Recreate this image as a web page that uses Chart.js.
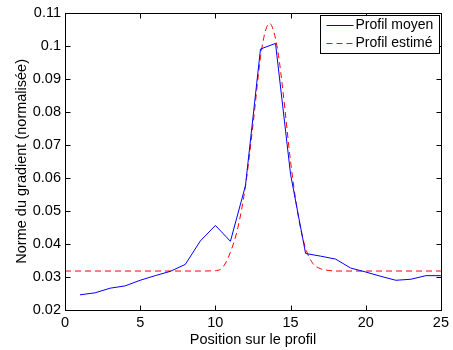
<!DOCTYPE html>
<html>
<head>
<meta charset="utf-8">
<script src="https://cdn.jsdelivr.net/npm/chart.js@4/dist/chart.umd.min.js"></script>
<style>
  html, body { margin: 0; padding: 0; background: #fff; }
  #wrap { width: 453px; height: 350px; }
</style>
</head>
<body>
<div id="wrap"><canvas id="profil"></canvas></div>
<script>
// mean profile, one value per position
const positions = [1, 2, 3, 4, 5, 6, 7, 8, 9, 10, 11, 12, 13, 14, 15, 16, 17, 18, 19, 20, 21, 22, 23, 24, 25];
const profilMoyen = [0.0246, 0.0252, 0.0266, 0.0273, 0.0290, 0.0304, 0.0317, 0.0338, 0.0409, 0.0456,
  0.0408, 0.0576, 0.0990, 0.1007, 0.0611, 0.0371, 0.0363, 0.0354, 0.0327, 0.0315,
  0.0302, 0.0290, 0.0293, 0.0304, 0.0304];

// estimated profile
const positionsEstime = [0, 9, 10, 10.5, 11, 11.5, 12, 12.5, 13, 13.3, 13.6, 13.9, 14.2, 14.5, 15, 15.5, 16, 16.5, 17, 17.5, 18, 25];
const profilEstime = [0.0318, 0.0318, 0.0319, 0.0330, 0.0375, 0.0450, 0.0575, 0.0760, 0.0965, 0.1040, 0.1068,
  0.1040, 0.0970, 0.0860, 0.0650, 0.0487, 0.0387, 0.0340, 0.0325, 0.0320, 0.0318, 0.0318];

const xTicks = [0, 5, 10, 15, 20, 25];
const yTicks = [0.02, 0.03, 0.04, 0.05, 0.06, 0.07, 0.08, 0.09, 0.1, 0.11];

const FONT = "'Liberation Sans', Arial, sans-serif";

// MATLAB style box with inward ticks + legend inside the axes
const boxPlugin = {
  id: "matlabBox",
  afterDraw(chart) {
    const { ctx, chartArea: a, scales } = chart;
    ctx.save();
    ctx.strokeStyle = "#000";
    ctx.lineWidth = 1;
    const L = Math.round(a.left) + 0.5, R = Math.round(a.right) + 0.5;
    const T = Math.round(a.top) + 0.5, B = Math.round(a.bottom) + 0.5;
    ctx.strokeRect(L, T, R - L, B - T);
    ctx.beginPath();
    xTicks.forEach(v => {
      const px = Math.round(scales.x.getPixelForValue(v)) + 0.5;
      ctx.moveTo(px, B); ctx.lineTo(px, B - 5);
      ctx.moveTo(px, T); ctx.lineTo(px, T + 5);
    });
    yTicks.forEach(v => {
      const py = Math.round(scales.y.getPixelForValue(v)) + 0.5;
      ctx.moveTo(L, py); ctx.lineTo(L + 5, py);
      ctx.moveTo(R, py); ctx.lineTo(R - 5, py);
    });
    ctx.stroke();

    // legend
    const lx = 320.5, ly = 15.5, lw = 119, lh = 38;
    ctx.fillStyle = "#fff";
    ctx.fillRect(lx, ly, lw, lh);
    ctx.strokeRect(lx, ly, lw, lh);
    ctx.font = "14px " + FONT;
    ctx.textBaseline = "middle";
    ctx.fillStyle = "#000";
    const items = [
      { label: "Profil moyen", color: "#0000ff", dash: [] },
      { label: "Profil estimé", color: "#ff0000", dash: [6, 4] }
    ];
    items.forEach((it, i) => {
      const y = ly + 10 + i * 18;
      ctx.strokeStyle = it.color;
      ctx.setLineDash(it.dash);
      ctx.beginPath();
      ctx.moveTo(lx + 6, y);
      ctx.lineTo(lx + 33, y);
      ctx.stroke();
      ctx.setLineDash([]);
      ctx.fillText(it.label, lx + 35, y);
    });
    ctx.restore();
  }
};

const ctx = document.getElementById("profil").getContext("2d");

new Chart(ctx, {
  type: "line",
  data: {
    datasets: [
      {
        label: "Profil moyen",
        data: positions.map((p, i) => ({ x: p, y: profilMoyen[i] })),
        borderColor: "#0000ff",
        borderWidth: 1,
        pointRadius: 0,
        tension: 0
      },
      {
        label: "Profil estimé",
        data: positionsEstime.map((p, i) => ({ x: p, y: profilEstime[i] })),
        borderColor: "#ff0000",
        borderWidth: 1,
        borderDash: [6, 4],
        pointRadius: 0,
        cubicInterpolationMode: "monotone"
      }
    ]
  },
  options: {
    responsive: true,
    maintainAspectRatio: false,
    animation: false,
    layout: { padding: { top: 11, right: 8, left: 0, bottom: 0 } },
    plugins: { legend: { display: false }, tooltip: { enabled: false } },
    scales: {
      x: {
        type: "linear",
        min: 0, max: 25,
        afterBuildTicks: s => { s.ticks = xTicks.map(v => ({ value: v })); },
        afterFit: s => { s.height = 40; },
        grid: { display: false, drawTicks: false },
        border: { display: false },
        ticks: { color: "#000", font: { family: FONT, size: 14.5 }, padding: 4, maxRotation: 0 },
        title: { display: true, text: "Position sur le profil", color: "#000", font: { family: FONT, size: 14.5 }, padding: { top: 0, bottom: 1 } }
      },
      y: {
        min: 0.02, max: 0.11,
        afterBuildTicks: s => { s.ticks = yTicks.map(v => ({ value: v })); },
        afterFit: s => { s.width = 65; },
        grid: { display: false, drawTicks: false },
        border: { display: false },
        ticks: {
          color: "#000", font: { family: FONT, size: 14.5 }, padding: 4,
          callback: v => String(Number(v.toFixed(2)))
        },
        title: { display: true, text: "Norme du gradient (normalisée)", color: "#000", font: { family: FONT, size: 14.5 }, padding: { top: 13, bottom: 0 } }
      }
    }
  },
  plugins: [boxPlugin]
});
</script>
</body>
</html>
